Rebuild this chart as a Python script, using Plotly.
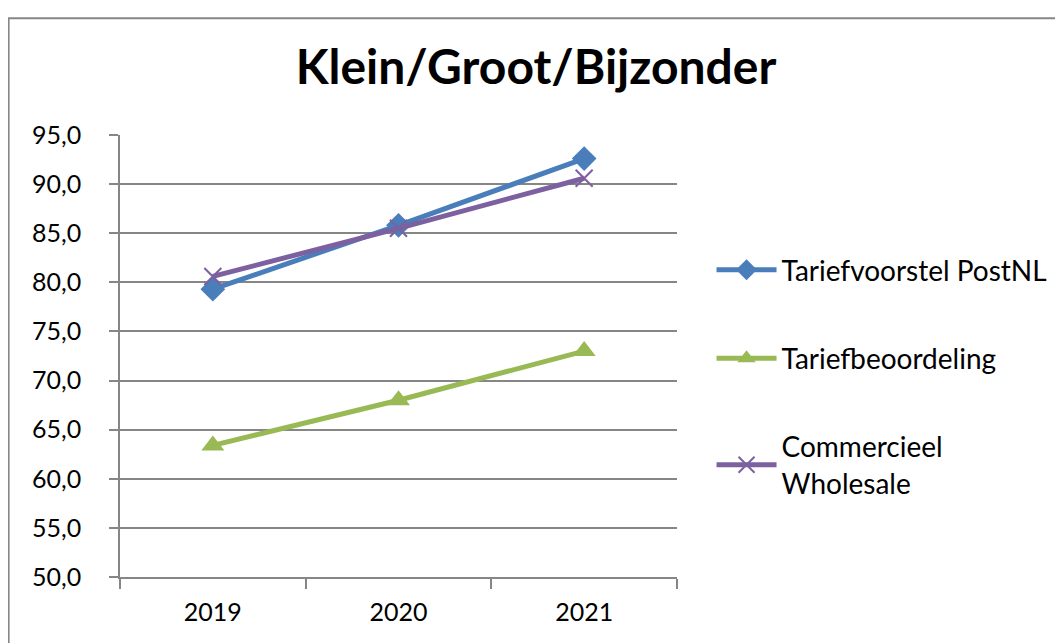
import plotly.graph_objects as go

years = ["2019", "2020", "2021"]
postnl = [79.3, 85.8, 92.6]
beoordeling = [63.4, 68.0, 73.0]
wholesale = [80.6, 85.5, 90.6]
ytick_vals = [50, 55, 60, 65, 70, 75, 80, 85, 90, 95]
ytick_text = ["50,0", "55,0", "60,0", "65,0", "70,0", "75,0", "80,0", "85,0", "90,0", "95,0"]

FONT = "Lato"
fig = go.Figure()
fig.add_trace(go.Scatter(x=years, y=postnl, name="Tariefvoorstel PostNL", mode="lines+markers",
                         line=dict(color="#4A7EBB", width=5),
                         marker=dict(symbol="diamond", size=19, color="#4A7EBB"),
                         legendgroup="a"))
fig.add_trace(go.Scatter(x=years, y=beoordeling, name="Tariefbeoordeling", mode="lines+markers",
                         line=dict(color="#98B954", width=5),
                         marker=dict(symbol="triangle-up", size=20, color="#98B954"),
                         legendgroup="b"))
fig.add_trace(go.Scatter(x=years, y=wholesale, name="Commercieel<br>Wholesale", mode="lines+markers",
                         line=dict(color="#7D60A0", width=5),
                         marker=dict(symbol="x-thin", size=17, color="#7D60A0",
                                     line=dict(color="#7D60A0", width=2)),
                         legendgroup="c"))

fig.update_layout(
    width=1063, height=643,
    margin=dict(l=112, r=394, t=127, b=74),
    paper_bgcolor="white", plot_bgcolor="white",
    font=dict(family=FONT, color="black"),
    title=dict(text="<b>Klein/Groot/Bijzonder</b>", x=0.4967, xanchor="center",
               y=1 - 59 / 643, yanchor="middle", yref="container",
               font=dict(family=FONT, size=48, color="black")),
    showlegend=True,
    legend=dict(x=1.062, xanchor="left", y=0.751, yanchor="top",
                font=dict(family=FONT, size=28, color="black"),
                tracegroupgap=49, itemwidth=60, bgcolor="rgba(0,0,0,0)"),
    xaxis=dict(type="category", range=[-0.5, 2.5], tickson="boundaries",
               ticks="outside", ticklen=10, tickcolor="#868686", tickwidth=1.5,
               ticklabelstandoff=12,
               showline=True, linecolor="#868686", linewidth=1.5,
               showgrid=False, tickfont=dict(family=FONT, size=25, color="black")),
    yaxis=dict(range=[50, 95], tickvals=ytick_vals, ticktext=ytick_text,
               ticks="outside", ticklen=9, tickcolor="#868686", tickwidth=1.5,
               ticklabelstandoff=23,
               showline=True, linecolor="#868686", linewidth=1.5,
               showgrid=True, gridcolor="#868686", gridwidth=1.5, zeroline=False,
               tickfont=dict(family=FONT, size=25, color="black")),
    shapes=[dict(type="rect", xref="paper", yref="paper",
                 x0=-0.2, x1=1.9, y0=-0.3, y1=1.264,
                 line=dict(color="#868686", width=2), fillcolor="rgba(0,0,0,0)", layer="below")],
)

fig.write_html("out.html")
